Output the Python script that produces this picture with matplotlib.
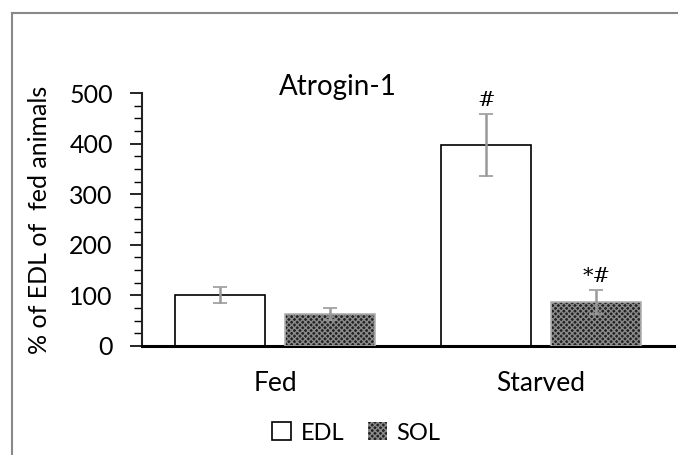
import matplotlib
matplotlib.use('Agg')
from matplotlib import pyplot as plt
from matplotlib.patches import Patch
from matplotlib.lines import Line2D
from matplotlib.ticker import MultipleLocator

categorias = ['Fed', 'Starved']
edl = [100, 397]
edl_err = [16, 62]
sol = [63, 87]
sol_err = [12, 23]
marcas_edl = ['', '#']
marcas_sol = ['', '*#']

plt.rcParams['font.family'] = ['Lato', 'DejaVu Sans']
plt.rcParams['hatch.linewidth'] = 1.0

fig = plt.figure(figsize=(6.78, 4.55), dpi=100)
ax = fig.add_axes([0.2094, 0.2396, 0.7846, 0.556])

x = [0, 1]
ancho = 0.34
sep = 0.0375
x_edl = [i - ancho / 2 - sep for i in x]
x_sol = [i + ancho / 2 + sep for i in x]

ax.bar(x_edl, edl, width=ancho, color='white', edgecolor='black', linewidth=1.2, zorder=2)
ax.bar(x_sol, sol, width=ancho, color='#222222', edgecolor='#8a8a8a', hatch='xxxxxx',
       linewidth=0, zorder=2)
ax.bar(x_sol, sol, width=ancho, fill=False, edgecolor='#b0b0b0', linewidth=1.2, zorder=3)

ax.errorbar(x_edl, edl, yerr=edl_err, fmt='none', ecolor='#999999', elinewidth=1.8,
            capsize=5, capthick=1.2, zorder=4)
ax.errorbar(x_sol, sol, yerr=sol_err, fmt='none', ecolor='#999999', elinewidth=1.8,
            capsize=5, capthick=1.2, zorder=4)
for xs, v, e, m in zip(x_edl, edl, edl_err, marcas_edl):
    if m:
        ax.text(xs, v + e + 8, m, ha='center', va='bottom', fontsize=15, family='DejaVu Serif')
for xs, v, e, m in zip(x_sol, sol, sol_err, marcas_sol):
    if m:
        ax.text(xs, v + e + 8, m, ha='center', va='bottom', fontsize=15, family='DejaVu Serif')

ax.set_xlim(-0.5, 1.5)
ax.set_ylim(0, 500)
ax.yaxis.set_major_locator(MultipleLocator(100))
ax.yaxis.set_minor_locator(MultipleLocator(25))
ax.set_xticks(x)
ax.set_xticklabels(categorias)
ax.tick_params(axis='x', length=0, pad=18, labelsize=19)
ax.tick_params(axis='y', which='major', length=9, width=1.2, pad=12, labelsize=18)
ax.tick_params(axis='y', which='minor', length=6, width=1.0)
for s in ['top', 'right']:
    ax.spines[s].set_visible(False)
ax.spines['left'].set_linewidth(1.5)
ax.spines['left'].set_color('#222222')
ax.spines['bottom'].set_linewidth(2.2)

fig.text(338 / 678, 1 - 95 / 455, 'Atrogin-1', ha='center', va='baseline', fontsize=20)
fig.text(40 / 678, 1 - 220 / 455, '% of EDL of  fed animals', rotation=90,
         ha='center', va='center', fontsize=18)

handles = [Patch(facecolor='white', edgecolor='black', linewidth=1.2),
           Patch(facecolor='#222222', edgecolor='#8a8a8a', hatch='xxxxxx', linewidth=0)]
fig.legend(handles, ['EDL', 'SOL'], loc='center', bbox_to_anchor=(356 / 678, 1 - 433 / 455),
           ncol=2, frameon=False, fontsize=17, handlelength=0.8, handleheight=0.8,
           handletextpad=0.4, columnspacing=1.0)

# marco gris de la figura
fig.add_artist(Line2D([12 / 678, 12 / 678], [0, 1 - 13 / 455], color='#888888', linewidth=1.5))
fig.add_artist(Line2D([12 / 678, 1], [1 - 13 / 455, 1 - 13 / 455], color='#888888', linewidth=1.5))

fig.savefig('out.png', dpi=100)
